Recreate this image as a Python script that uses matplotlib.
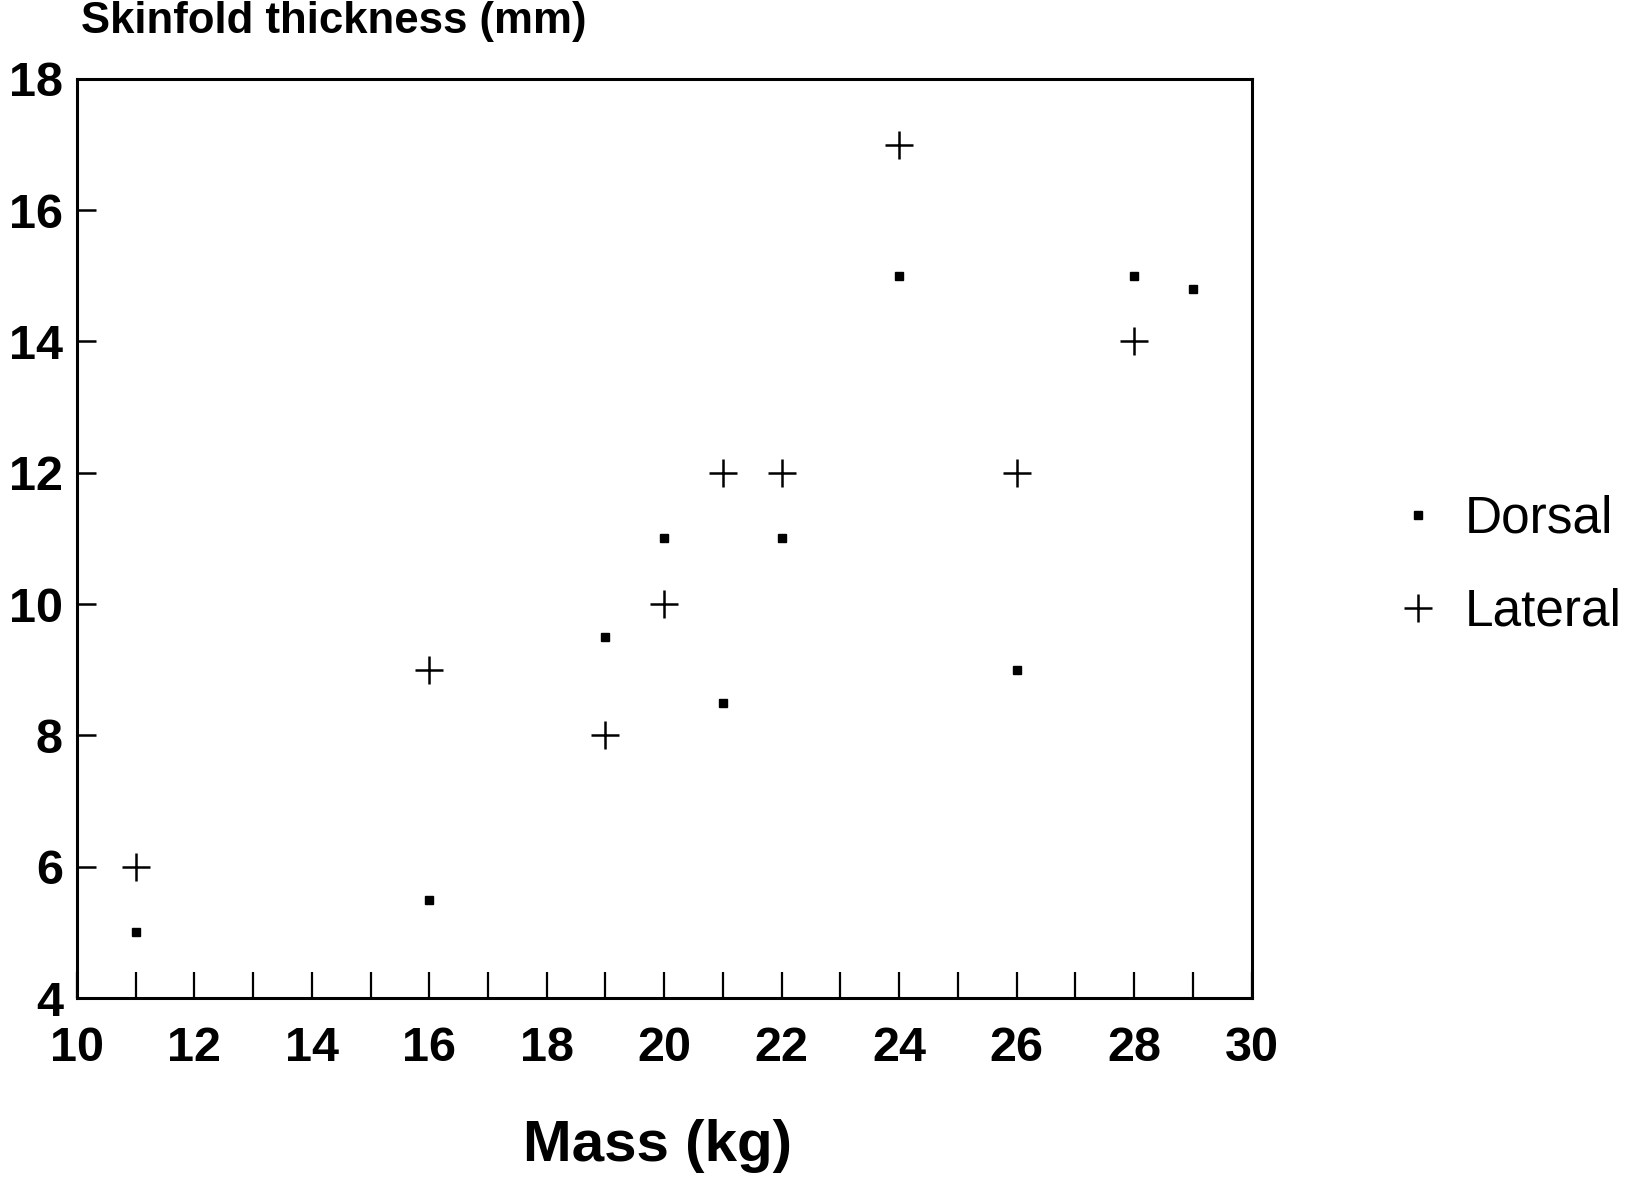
import matplotlib
matplotlib.use("Agg")
import matplotlib.pyplot as plt
from matplotlib.ticker import MultipleLocator

# Data
dorsal_mass = [11, 16, 19, 20, 21, 22, 24, 26, 28, 29]
dorsal_skin = [5.0, 5.5, 9.5, 11.0, 8.5, 11.0, 15.0, 9.0, 15.0, 14.8]
lateral_mass = [11, 16, 19, 20, 21, 22, 24, 26, 28]
lateral_skin = [6.0, 9.0, 8.0, 10.0, 12.0, 12.0, 17.0, 12.0, 14.0]
x_ticks = [10, 12, 14, 16, 18, 20, 22, 24, 26, 28, 30]
y_ticks = [4, 6, 8, 10, 12, 14, 16, 18]

plt.rcParams['font.family'] = ['Liberation Sans', 'DejaVu Sans']

fig = plt.figure(figsize=(16.34, 11.77), dpi=100)
ax = fig.add_axes([0.047, 0.152, 0.719, 0.781])

ax.plot(dorsal_mass, dorsal_skin, linestyle='none', marker='s', ms=5.5,
        color='black', label='Dorsal')
ax.plot(lateral_mass, lateral_skin, linestyle='none', marker='+', ms=20,
        mew=1.8, color='black', label='Lateral')

ax.set_xlim(10, 30)
ax.set_ylim(4, 18)
ax.set_xticks(x_ticks)
ax.set_yticks(y_ticks)
ax.xaxis.set_minor_locator(MultipleLocator(1))
for s in ax.spines.values():
    s.set_linewidth(2.2)

ax.tick_params(axis='x', which='both', direction='in', length=19, width=1.6,
               pad=20, labelsize=35)
ax.tick_params(axis='y', which='both', direction='in', length=14, width=1.8,
               pad=10, labelsize=35)
for lab in ax.get_xticklabels() + ax.get_yticklabels():
    lab.set_fontweight('bold')

ax.set_xlabel('Mass (kg)', fontsize=42, fontweight='bold', va='center')
ax.xaxis.set_label_coords(0.494, -0.161)
fig.text(81 / 1634, 1 - 22 / 1177, 'Skinfold thickness (mm)', fontsize=31.5,
         fontweight='bold', ha='left', va='center')

leg = ax.legend(loc='upper left', bbox_to_anchor=(1403 / 1634, 1 - 495 / 1177),
                bbox_transform=fig.transFigure, frameon=False, fontsize=37,
                handlelength=0.6, handletextpad=0.6, labelspacing=0.85,
                borderpad=0, borderaxespad=0)

fig.savefig('out.png', dpi=100)
